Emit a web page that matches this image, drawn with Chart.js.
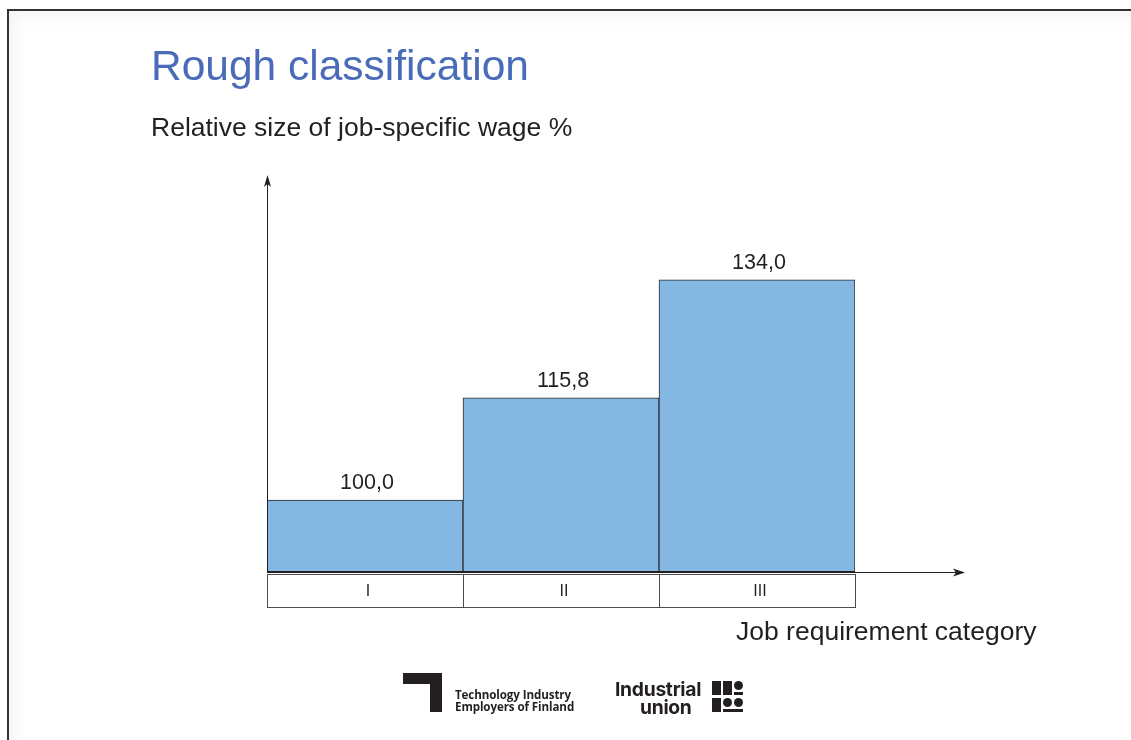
<!DOCTYPE html>
<html>
<head>
<meta charset="utf-8">
<script src="https://cdn.jsdelivr.net/npm/chart.js@4.4.1/dist/chart.umd.min.js"></script>
<style>
  html, body { margin: 0; padding: 0; background: #fff; width: 1131px; height: 740px; overflow: hidden; }
  body { position: relative; font-family: "Liberation Sans", Arial, sans-serif; }
  #frame { position: absolute; left: 7px; top: 9px; width: 1200px; height: 800px;
           border-left: 2px solid #333; border-top: 2px solid #333;
           box-shadow: inset 14px 14px 18px -10px rgba(0,0,0,0.05); }
  #c { position: absolute; left: 0; top: 0; }
  .txt { position: absolute; white-space: nowrap; }
  #title { left: 151px; top: 42px; font-size: 42.5px; color: #4a6bb8; }
  #subtitle { left: 151px; top: 112px; font-size: 26.5px; color: #231f20; }
  #xtitle { left: 736px; top: 616px; font-size: 26.5px; color: #231f20; }
  .logo { position: absolute; background: #231f20; }
  .tif { position: absolute; left: 455px; font-family: "Open Sans", "DejaVu Sans", sans-serif; font-weight: 700;
         font-size: 11.6px; color: #231f20; letter-spacing: -0.1px; line-height: 12px; }
  .iu { position: absolute; font-family: "Inter", "Open Sans", sans-serif; font-weight: 700; color: #231f20; }
  .dot { position: absolute; background: #231f20; border-radius: 50%; }
</style>
</head>
<body>
<div id="frame"></div>
<canvas id="c" width="1131" height="740"></canvas>
<div class="txt" id="title">Rough classification</div>
<div class="txt" id="subtitle">Relative size of job-specific wage %</div>
<div class="txt" id="xtitle">Job requirement category</div>

<!-- Technology Industry mark -->
<div class="logo" style="left:403px; top:673px; width:39px; height:11px;"></div>
<div class="logo" style="left:430px; top:673px; width:12px; height:39px;"></div>
<div class="tif" style="top:689px;">Technology Industry</div>
<div class="tif" style="top:701px;">Employers of Finland</div>

<!-- Industrial union mark -->
<div class="iu" style="left:615px; top:677px; font-size:19.3px; letter-spacing:-0.3px;">Industrial</div>
<div class="iu" style="left:640px; top:695px; font-size:19.3px; letter-spacing:-0.3px;">union</div>
<div class="logo" style="left:712px; top:681px; width:9px; height:14px;"></div>
<div class="logo" style="left:723px; top:681px; width:9px; height:14px;"></div>
<div class="dot" style="left:734px; top:681px; width:9px; height:9px;"></div>
<div class="logo" style="left:734px; top:692px; width:9px; height:3px;"></div>
<div class="logo" style="left:712px; top:698px; width:9px; height:14px;"></div>
<div class="dot" style="left:723px; top:698px; width:9px; height:9px;"></div>
<div class="dot" style="left:734px; top:698px; width:9px; height:9px;"></div>
<div class="logo" style="left:723px; top:709px; width:20px; height:3px;"></div>

<script>
// Job requirement categories and their relative job-specific wage (%)
const categories = ['I', 'II', 'III'];
const wageValues = [100.0, 115.8, 134.0];
const valueLabels = ['100,0', '115,8', '134,0'];

// Axis arrows, value labels and the category strip under the bars
const decorations = {
  id: 'decorations',
  afterDatasetsDraw(chart) {
    const { ctx, chartArea: a, scales: { x } } = chart;
    ctx.save();
    ctx.strokeStyle = '#231f20';
    ctx.fillStyle = '#231f20';

    // y axis with arrow
    ctx.lineWidth = 1;
    ctx.beginPath();
    ctx.moveTo(a.left + 0.5, a.bottom);
    ctx.lineTo(a.left + 0.5, a.top + 6);
    ctx.stroke();
    ctx.beginPath();
    ctx.moveTo(a.left + 0.5, a.top);
    ctx.lineTo(a.left + 4, a.top + 12);
    ctx.lineTo(a.left + 0.5, a.top + 9);
    ctx.lineTo(a.left - 3, a.top + 12);
    ctx.closePath();
    ctx.fill();

    // x axis baseline with arrow
    const xEnd = 965;
    ctx.lineWidth = 2;
    ctx.beginPath();
    ctx.moveTo(a.left, a.bottom);
    ctx.lineTo(a.right, a.bottom);
    ctx.stroke();
    ctx.lineWidth = 1;
    ctx.beginPath();
    ctx.moveTo(a.right, a.bottom + 0.5);
    ctx.lineTo(xEnd - 6, a.bottom + 0.5);
    ctx.stroke();
    ctx.beginPath();
    ctx.moveTo(xEnd, a.bottom + 0.5);
    ctx.lineTo(xEnd - 12, a.bottom - 3.5);
    ctx.lineTo(xEnd - 9, a.bottom + 0.5);
    ctx.lineTo(xEnd - 12, a.bottom + 4.5);
    ctx.closePath();
    ctx.fill();

    // value labels above bars
    const meta = chart.getDatasetMeta(0);
    ctx.font = '21.5px "Liberation Sans", Arial, sans-serif';
    ctx.textAlign = 'center';
    ctx.textBaseline = 'alphabetic';
    meta.data.forEach((bar, i) => {
      ctx.fillText(valueLabels[i], bar.x + 2, bar.y - 11);
    });

    // category strip
    const top = a.bottom + 2.5, bottom = a.bottom + 35.5;
    const half = (x.getPixelForValue(1) - x.getPixelForValue(0)) / 2;
    ctx.lineWidth = 1;
    ctx.strokeStyle = '#4d4d4d';
    ctx.font = '16px "Liberation Sans", Arial, sans-serif';
    ctx.textBaseline = 'middle';
    categories.forEach((c, i) => {
      const cx = x.getPixelForValue(i);
      const l = Math.round(cx - half) + 0.5, r = Math.round(cx + half) + 0.5;
      ctx.strokeRect(l, top, r - l, bottom - top);
      ctx.fillText(c, cx + 3, (top + bottom) / 2 + 1);
    });
    ctx.restore();
  }
};

new Chart(document.getElementById('c'), {
  type: 'bar',
  data: {
    labels: categories,
    datasets: [{
      data: wageValues,
      backgroundColor: '#84b8e2',
      borderColor: '#2b2b2b',
      borderWidth: 1,
      borderSkipped: false,
      barPercentage: 1,
      categoryPercentage: 1
    }]
  },
  options: {
    responsive: false,
    animation: false,
    devicePixelRatio: 1,
    layout: { padding: { left: 267, right: 276, top: 175, bottom: 168 } },
    plugins: { legend: { display: false }, tooltip: { enabled: false }, title: { display: false } },
    scales: {
      x: { display: false },
      y: { display: false, min: 88.9, max: 150.2 }
    }
  },
  plugins: [decorations]
});
</script>
</body>
</html>
